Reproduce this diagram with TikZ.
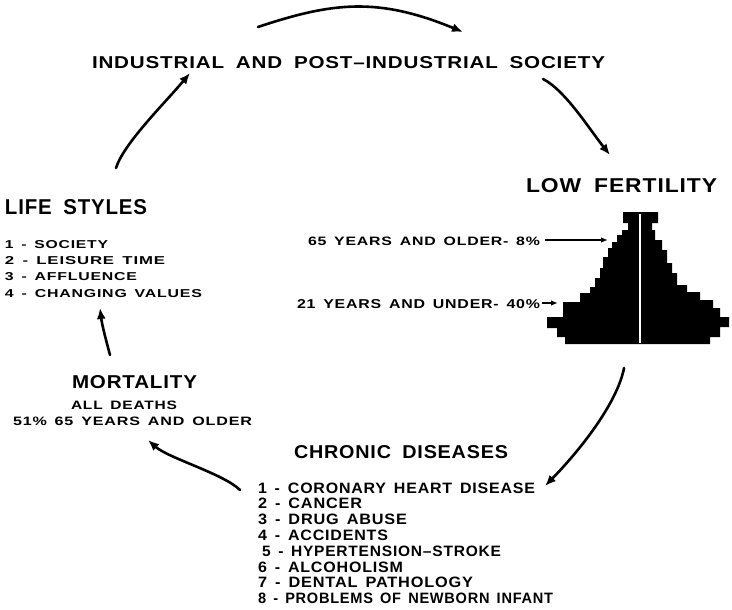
\documentclass[tikz,border=0pt]{standalone}
\usepackage{fontspec}
\usepackage{graphicx}
\setmainfont{Liberation Sans}
\newfontfamily\tfont[LetterSpace=4,WordSpace=1.8]{Liberation Sans}
\newfontfamily\bfont[LetterSpace=5,WordSpace=1.5]{Liberation Sans}
\usetikzlibrary{arrows.meta}
\newcommand\ttl[3]{\resizebox{#1pt}{#2pt}{\tfont\bfseries #3}}
\newcommand\lst[3]{\resizebox{#1pt}{#2pt}{\bfont\bfseries #3}}
\begin{document}
\begin{tikzpicture}[x=1pt,y=-1pt,
  txt/.style={inner sep=0pt,outer sep=0pt,anchor=north west},
  flow/.style={line width=2.6pt,line cap=round,-{Latex[length=11pt,width=9pt]}},
  pointer/.style={line width=1.4pt,-{Latex[length=7pt,width=5.5pt]}}]
\useasboundingbox (0,0) rectangle (732,610);

% titles
\node[txt] (soc) at (92,57) {\ttl{513}{12}{INDUSTRIAL AND POST–INDUSTRIAL SOCIETY}};
\node[txt] (lowf) at (526,179) {\ttl{191}{14}{LOW FERTILITY}};
\node[txt] (life) at (5,200) {\ttl{142}{15}{LIFE STYLES}};
\node[txt] (mort) at (72,375) {\ttl{125}{13}{MORTALITY}};
\node[txt] (chron) at (294,445) {\ttl{214}{13}{CHRONIC DISEASES}};

% life styles list
\node[txt] (l1) at (5,240) {\lst{103}{8}{1 - SOCIETY}};
\node[txt] (l2) at (5,256) {\lst{160}{8}{2 - LEISURE TIME}};
\node[txt] (l3) at (5,272.5) {\lst{132}{8}{3 - AFFLUENCE}};
\node[txt] (l4) at (5,289) {\lst{197}{8}{4 - CHANGING VALUES}};

% mortality text
\node[txt] (md1) at (71,401) {\lst{106}{8.5}{ALL DEATHS}};
\node[txt] (md2) at (13,417) {\lst{239}{8.5}{51\% 65 YEARS AND OLDER}};

% chronic list
\node[txt] (c1) at (258,482.5) {\lst{277}{10.5}{1 - CORONARY HEART DISEASE}};
\node[txt] (c2) at (258,498.3) {\lst{104}{10.5}{2 - CANCER}};
\node[txt] (c3) at (258,514.1) {\lst{149}{10.5}{3 - DRUG ABUSE}};
\node[txt] (c4) at (258,529.9) {\lst{130}{10.5}{4 - ACCIDENTS}};
\node[txt] (c5) at (262,545.7) {\lst{239}{10.5}{5 - HYPERTENSION–STROKE}};
\node[txt] (c6) at (258,561.5) {\lst{145}{10.5}{6 - ALCOHOLISM}};
\node[txt] (c7) at (258,577.3) {\lst{215}{10.5}{7 - DENTAL PATHOLOGY}};
\node[txt] (c8) at (258,593.1) {\lst{295}{10.5}{8 - PROBLEMS OF NEWBORN INFANT}};

% pyramid labels
\node[txt] (p65) at (308,236.5) {\lst{232}{8.5}{65 YEARS AND OLDER- 8\%}};
\node[txt] (p21) at (297,299) {\lst{243}{9}{21 YEARS AND UNDER- 40\%}};

% pyramid
\fill[black] (623,212) -- (623,223) -- (628,223) -- (628,230) -- (622,230) -- (622,235)
 -- (617,235) -- (617,242) -- (612,242) -- (612,248) -- (608,248) -- (608,257)
 -- (603,257) -- (603,268) -- (600,268) -- (600,278) -- (595,278) -- (595,287)
 -- (590,287) -- (590,293) -- (580,293) -- (580,302) -- (563,302) -- (563,317)
 -- (547,317) -- (547,328) -- (557,328) -- (557,337) -- (565,337) -- (565,344)
 -- (710,344) -- (710,337) -- (720,337) -- (720,327) -- (729,327) -- (729,317)
 -- (720,317) -- (720,308) -- (713,308) -- (713,300) -- (700,300) -- (700,292)
 -- (687,292) -- (687,285) -- (677,285) -- (677,273) -- (672,273) -- (672,263)
 -- (667,263) -- (667,250) -- (662,250) -- (662,240) -- (655,240) -- (655,230)
 -- (652,230) -- (652,223) -- (658,223) -- (658,212) -- cycle;
\draw[white,line width=2pt] (639.5,214) -- (639.5,343);

% connector end points
\coordinate (aS) at (258,27);  \coordinate (aE) at (463,32);
\coordinate (bS) at (543,79);  \coordinate (bE) at (610,155);
\coordinate (cS) at (624,368); \coordinate (cE) at (545,486);
\coordinate (dS) at (240,490); \coordinate (dE) at (148,440);
\coordinate (eS) at (110,355); \coordinate (eE) at (100,308);
\coordinate (fS) at (116,168); \coordinate (fE) at (190,73);
\coordinate (p1S) at (545,240); \coordinate (p1E) at (608,240);
\coordinate (p2S) at (542,303); \coordinate (p2E) at (558,303);

\draw[flow] (aS) .. controls (333,2) and (378,-3) .. (aE);
\draw[flow] (bS) .. controls (565,90) and (590,130) .. (bE);
\draw[flow] (cS) .. controls (618,400) and (585,445) .. (cE);
\draw[flow] (dS) .. controls (224,474) and (168,458) .. (dE);
\draw[flow] (eS) .. controls (106,340) and (102,325) .. (eE);
\draw[flow] (fS) .. controls (124,143) and (165,103) .. (fE);
\draw[pointer] (p1S) -- (p1E);
\draw[pointer] (p2S) -- (p2E);
\end{tikzpicture}
\end{document}
